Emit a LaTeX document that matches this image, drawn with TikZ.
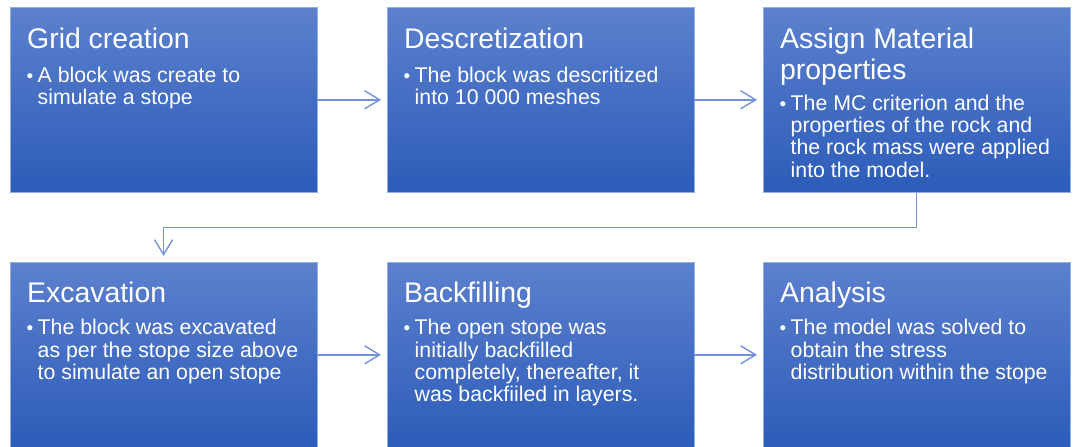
\documentclass[tikz,border=0pt]{standalone}
\usepackage{fontspec}
\setmainfont{Liberation Sans}
\usetikzlibrary{arrows.meta}
\definecolor{btop}{RGB}{92,128,205}
\definecolor{bbot}{RGB}{44,92,185}
\definecolor{bedge}{RGB}{150,175,225}
\definecolor{conncol}{RGB}{115,148,215}
\tikzset{
 stepbox/.style={draw=bedge, line width=0.6pt, top color=btop, bottom color=bbot, minimum width=306.5pt, minimum height=185pt, inner sep=0pt, anchor=north west},
 ttl/.style={text=white, font=\fontsize{28.4}{31}\selectfont, inner sep=0pt, anchor=north west, align=left},
 bodytxt/.style={text=white, font=\fontsize{21.3}{22.3}\selectfont, inner sep=0pt, anchor=north west, align=left},
 bul/.style={text=white, font=\fontsize{19}{22.3}\selectfont, inner sep=0pt, anchor=north west},
 conn/.style={draw=conncol, line width=1.4pt, -{Straight Barb[length=15pt,width=18pt,line width=1.4pt]}}
}
\begin{document}
\begin{tikzpicture}[x=1pt,y=1pt]
\useasboundingbox (0,0) rectangle (1077,-447);
% boxes
\node[stepbox] (b1) at (10,-7) {};
\node[stepbox] (b2) at (387,-7) {};
\node[stepbox] (b3) at (763,-7) {};
\node[stepbox] (b4) at (10,-262) {};
\node[stepbox] (b5) at (387,-262) {};
\node[stepbox] (b6) at (763,-262) {};
% row 1 texts
\node[ttl] (t1) at (27,-26.6) {\strut Grid creation};
\node[bul] (u1) at (26.5,-66.4) {\strut\textbullet};
\node[bodytxt] (x1) at (37.5,-66.4) {\strut A block was create to\\simulate a stope};
\node[ttl] (t2) at (404,-26.6) {\strut Descretization};
\node[bul] (u2) at (403.5,-66.4) {\strut\textbullet};
\node[bodytxt] (x2) at (414.5,-66.4) {\strut The block was descritized\\into 10 000 meshes};
\node[ttl] (t3) at (780,-26.6) {\strut Assign Material\\properties};
\node[bul] (u3) at (779.5,-94.4) {\strut\textbullet};
\node[bodytxt] (x3) at (790.5,-94.4) {\strut The MC criterion and the\\properties of the rock and\\the rock mass were applied\\into the model.};
% row 2 texts
\node[ttl] (t4) at (27,-280.5) {\strut Excavation};
\node[bul] (u4) at (26.5,-318.9) {\strut\textbullet};
\node[bodytxt] (x4) at (37.5,-318.9) {\strut The block was excavated\\as per the stope size above\\to simulate an open stope};
\node[ttl] (t5) at (404,-280.5) {\strut Backfilling};
\node[bul] (u5) at (403.5,-318.9) {\strut\textbullet};
\node[bodytxt] (x5) at (414.5,-318.9) {\strut The open stope was\\initially backfilled\\completely, thereafter, it\\was backfiiled in layers.};
\node[ttl] (t6) at (780,-280.5) {\strut Analysis};
\node[bul] (u6) at (779.5,-318.9) {\strut\textbullet};
\node[bodytxt] (x6) at (790.5,-318.9) {\strut The model was solved to\\obtain the stress\\distribution within the stope};
% connectors
\draw[conn] (b1.east) -- ([xshift=-6]b2.west);
\draw[conn] (b2.east) -- ([xshift=-6]b3.west);
\draw[conn] (b3.south) -- ++(0,-35) -| ([yshift=6]b4.north);
\draw[conn] (b4.east) -- ([xshift=-6]b5.west);
\draw[conn] (b5.east) -- ([xshift=-6]b6.west);
\end{tikzpicture}
\end{document}
